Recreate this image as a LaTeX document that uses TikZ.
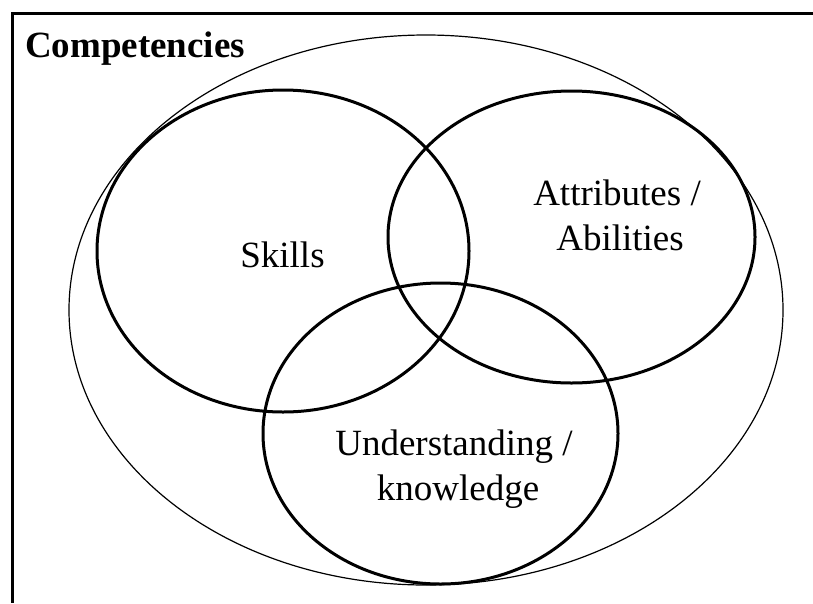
\documentclass[tikz,border=0pt]{standalone}
\usepackage{fontspec}
\setmainfont{Liberation Serif}
\tikzset{
  thinring/.style={draw=black, line width=1.2pt},
  thickring/.style={draw=black, line width=3pt},
  framestyle/.style={draw=black, line width=3pt},
  lbl/.style={inner sep=0pt, anchor=base, font=\fontsize{37}{45}\selectfont},
  title/.style={inner sep=0pt, anchor=base west, font=\fontsize{37}{45}\selectfont\bfseries}
}
\begin{document}
\begin{tikzpicture}[x=1pt, y=-1pt]
\useasboundingbox (0,0) rectangle (813,603);
\fill[white] (0,0) rectangle (813,603);
% frame (top and left edges)
\draw[framestyle] (813,13) -- (12,13) -- (12,603);
% outer ellipse
\draw[thinring] (426,310) ellipse [x radius=357pt, y radius=275pt];
% skills
\draw[thickring] (283,251) ellipse [x radius=186pt, y radius=161pt];
% attributes
\draw[thickring] (571.5,237) ellipse [x radius=183.5pt, y radius=146pt];
% understanding
\draw[thickring] (440.5,433.5) ellipse [x radius=177.5pt, y radius=150.5pt];
% labels
\node[title] (comp) at (25,57) {Competencies};
\node[lbl] (skills) at (282.5,267) {Skills};
\node[lbl] (attr1) at (617,205) {Attributes /};
\node[lbl] (attr2) at (620,250) {Abilities};
\node[lbl] (und1) at (454,455) {Understanding /};
\node[lbl] (und2) at (458,500) {knowledge};
\end{tikzpicture}
\end{document}
